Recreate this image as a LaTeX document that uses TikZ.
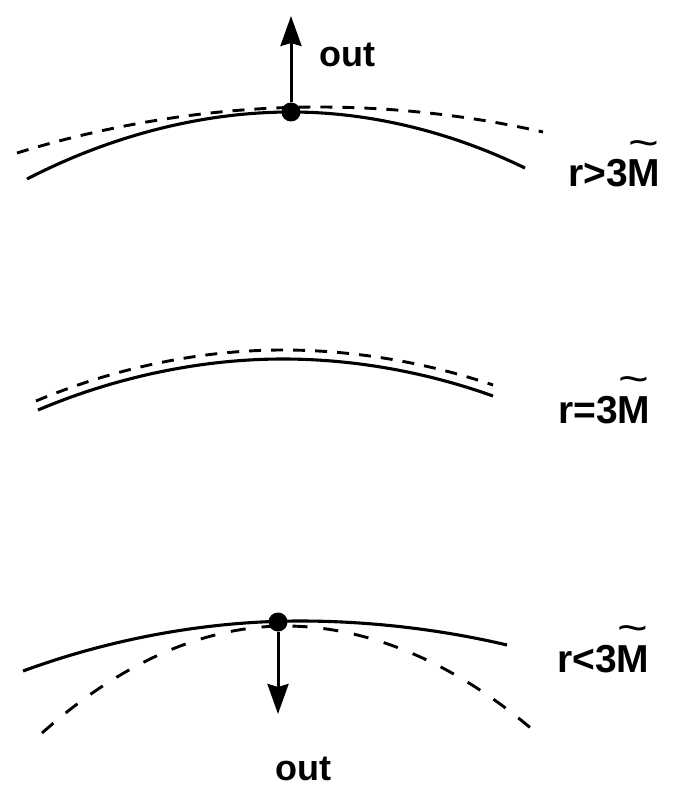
\documentclass[tikz,border=0pt]{standalone}
\usepackage{graphicx}
\usepackage{fontspec}
\setmainfont{Liberation Sans}
\usetikzlibrary{arrows.meta,positioning}
\newcommand{\Mtil}{\makebox[0pt][l]{\raisebox{0.76em}{\makebox[0.833em]{\scalebox{1.35}[1.1]{\mdseries\char`\~}}}}M}

\begin{document}
\begin{tikzpicture}[x=1pt,y=-1pt,font=\fontsize{36pt}{40pt}\selectfont\bfseries,
      orb/.style={line width=3.1pt},
      ref/.style={line width=2.9pt,dash pattern=on 12pt off 10pt},
      dot/.style={circle,fill=black,inner sep=0pt,minimum size=19pt},
      lbl/.style={anchor=base west,inner sep=0pt},
      rlbl/.style={lbl,font=\fontsize{39pt}{42pt}\selectfont\bfseries},
      ar/.style={-{Stealth[length=30pt,width=21pt,inset=3pt]},line width=3pt}]
      \useasboundingbox (0,0) rectangle (678,786);
      % r > 3M
      \draw[ref] (17,153) parabola bend (319,107) (543,132);
      \draw[orb] (27,179) parabola bend (291,112) (525,168);
      \node[dot] (pa) at (291,112) {};
      \coordinate (ta) at (291,16);
      \draw[ar] (pa) -- (ta);
      \node[lbl] (outa) at (319,67) {out};
      \node[rlbl] (la) at (568,187) {r>3\Mtil};
      % r = 3M
      \draw[ref] (36,401) parabola bend (283,350) (493,385);
      \draw[orb] (38,410) parabola bend (283,359) (493,396);
      \node[rlbl] (lb) at (558,423) {r=3\Mtil};
      % r < 3M
      \draw[ref,dash pattern=on 15pt off 16pt] (42,733) parabola bend (285,626) (533,730);
      \draw[orb] (23,671) parabola bend (300,621) (507,645);
      \node[dot] (pc) at (278,622) {};
      \coordinate (tc) at (278,714);
      \draw[ar] (pc) -- (tc);
      \node[lbl] (outc) at (275,780) {out};
      \node[rlbl] (lc) at (557,672) {r<3\Mtil};
    \end{tikzpicture}
\end{document}
